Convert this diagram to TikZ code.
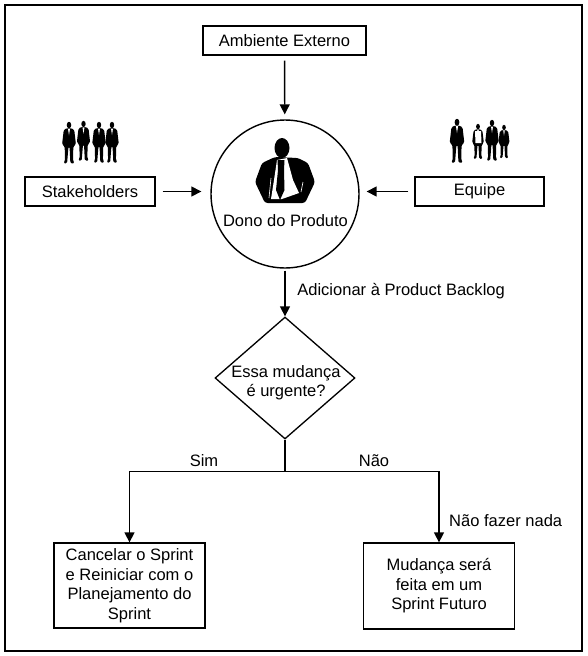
\documentclass[tikz,border=0pt]{standalone}
\usepackage{fontspec}
\setmainfont{Liberation Sans}
\usetikzlibrary{arrows.meta, shapes.geometric, positioning, calc}

\begin{document}
\begin{tikzpicture}[
    x=0.02cm, y=-0.02cm,
    box/.style={draw, line width=0.75pt, align=center, inner sep=0pt,
                font=\fontsize{9.4}{11.1}\selectfont},
    lbl/.style={align=center, inner sep=0pt, anchor=base, font=\fontsize{9.4}{11.1}\selectfont},
    flow/.style={-{Triangle[length=0.2cm,width=0.2cm]}, line width=0.8pt},
    wire/.style={line width=0.8pt},
    person/.pic={
      \fill (0,3) ellipse (2.6 and 3.2);
      \fill[rounded corners=0.8pt] (-1.8,6) -- (-6,7.5) -- (-8,22) -- (-5,24) -- (-4.6,38) -- (-6.5,40.5)
        -- (-2.2,40.5) -- (-0.6,24) -- (0.6,24) -- (1.6,40.5) -- (6.5,40.5) -- (4.6,38)
        -- (5,24) -- (8,22) -- (6,7.5) -- (1.8,6) -- cycle;
      \fill[white] (-1.2,6.5) -- (1.2,6.5) -- (0,13) -- cycle;
    }
  ]
    \useasboundingbox (0,0) rectangle (588,656);
    \fill[white] (0,0) rectangle (588,656);
    \node[draw, line width=1.15pt, minimum width=11.54cm, minimum height=12.92cm] (frame) at (293.5,328) {};

    \node[box, minimum width=3.26cm, minimum height=0.58cm] (ambiente) at (284.5,40.5) {Ambiente Externo};
    \node[box, minimum width=2.6cm, minimum height=0.58cm] (stakeholders) at (90,191.5) {Stakeholders};
    \node[box, minimum width=2.58cm, minimum height=0.58cm] (equipe) at (479.5,191.5) {Equipe};
    \node[draw, circle, line width=0.8pt, minimum size=2.96cm, inner sep=0pt] (dono) at (285,194) {};
    \node[lbl] (donotxt) at (285.5,226.7) {Dono do Produto};
    \node[draw, diamond, line width=0.75pt, minimum width=2.8cm, minimum height=2.44cm,
          inner sep=0pt] (urgente) at (285,378) {};
    \node[box, draw=none] (urgentetxt) at (286,382.5) {Essa mudança\\é urgente?};
    \node[box, minimum width=3.02cm, minimum height=1.7cm] (cancelar) at (129.5,585.5)
      {Cancelar o Sprint\\e Reiniciar com o\\Planejamento do\\Sprint};
    \node[box, minimum width=3.02cm, minimum height=1.72cm] (futuro) at (439,586)
      {Mudança será\\feita em um\\Sprint Futuro};

    \coordinate (split) at (285,471.5);
    \coordinate (splitL) at (cancelar.north |- split);
    \coordinate (splitR) at (futuro.north |- split);

    \draw[flow, shorten <=0.1cm, shorten >=0.1cm] (ambiente) -- (dono);
    \draw[flow, shorten <=0.14cm, shorten >=0.18cm] (stakeholders) -- (stakeholders -| dono.west);
    \draw[flow, shorten <=0.12cm, shorten >=0.14cm] (equipe) -- (equipe -| dono.east);
    \draw[flow, shorten <=0.04cm] (dono) -- (urgente);
    \draw[wire] (urgente) -- (split);
    \draw[flow] (splitR) -| (cancelar.north);
    \draw[flow] (splitL) -| (futuro.north);

    \node[lbl, anchor=base west] (adicionar) at (297,295) {Adicionar à Product Backlog};
    \node[lbl] (sim) at (204,466.7) {Sim};
    \node[lbl] (nao) at (374,466.7) {Não};
    \node[lbl] (nada) at (505.7,526) {Não fazer nada};

    % silhuetas
    \foreach \px/\py/\s in {69/122/1.02, 83.5/121/0.98, 99/122/1, 112/122/1,
                            457/119/1.08, 478/124/0.86, 492/120/1, 504/125/0.82} {
      \pic[xscale=0.85*\s, yscale=\s] at (\px,\py) {person};
    }
    \fill[white] (475,131) -- (481,131) -- (481.5,143) -- (475.5,143) -- cycle;

    % dono do produto
    \fill (282,148) ellipse (7.5 and 10);
    \fill[rounded corners=1.5pt] (275,157) -- (262,163) -- (255,182)
      -- (265,203) -- (305,203) -- (315,182) -- (308,163) -- (298,158) -- cycle;
    \fill[white] (277,160) -- (287,158) -- (293,180) -- (299,193) -- (282,199) -- (271,199) -- (274,180) -- cycle;
    \fill (277.5,160) -- (284.5,160) -- (284,170) -- (284.5,190) -- (280,200) -- (276,190) -- (278,170) -- cycle;
    \draw[white, line width=0.35pt] (271,178) -- (269,198);
    \draw[white, line width=0.35pt] (303,182) -- (301,192);
  \end{tikzpicture}
\end{document}
